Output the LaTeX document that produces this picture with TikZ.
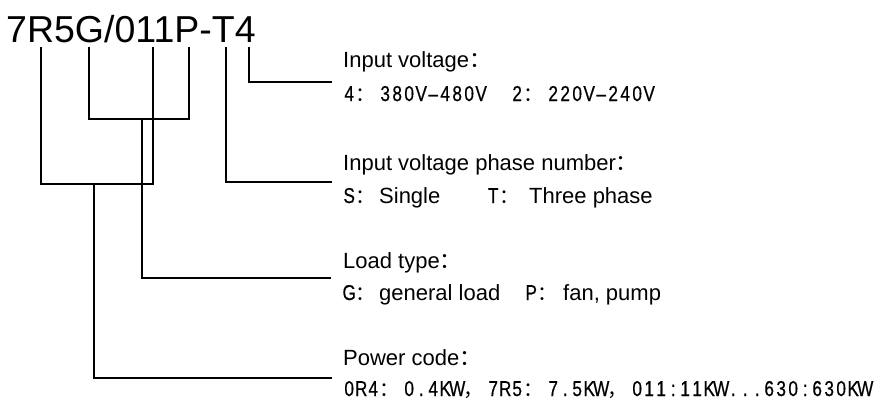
\documentclass[tikz,border=0pt]{standalone}
\usepackage{fontspec}
\setmainfont{Liberation Sans}
\newfontfamily\hwfont[FakeStretch=0.8,FakeBold=0.5]{Liberation Sans}
\newfontfamily\cjk{Noto Sans CJK SC}
\newcommand{\fw}[1]{\makebox[24pt][l]{\cjk\fontsize{20}{24}\selectfont #1}}
\newcommand{\ar}[1]{{\rmfamily\fontsize{22}{26}\selectfont #1}}
\def\monoloop#1{\ifx#1\relax\else\makebox[12pt]{#1}\expandafter\monoloop\fi}
\newcommand{\mono}[1]{\monoloop#1\relax}
\begin{document}
\begin{tikzpicture}[x=1pt,y=-1pt,
  conn/.style={draw=black,line width=1.8pt},
  titletext/.style={inner sep=0pt,anchor=base west,font=\fontsize{37.5}{44}\selectfont},
  head/.style={inner sep=0pt,anchor=base west,font=\fontsize{22}{26}\selectfont},
  sub/.style={inner sep=0pt,anchor=base west,font=\hwfont\fontsize{21.5}{24}\selectfont}]
\useasboundingbox (0,0) rectangle (875,400);
\fill[white] (0,0) rectangle (875,400);
% code
\node[titletext] (code) at (6,42) {7R5G/011P-T4};
% tap points under the characters
\coordinate (tR) at (41,47);
\coordinate (tG) at (89,47);
\coordinate (t1) at (153,47);
\coordinate (tP) at (189,47);
\coordinate (tT) at (226,47);
\coordinate (t4) at (249,47);
\coordinate (jGP) at (142,119);
\coordinate (jR1) at (94,184);
% line ends
\coordinate (e1) at (332,82);
\coordinate (e2) at (332,182);
\coordinate (e3) at (331,278);
\coordinate (e4) at (332,378);
% texts
\node[head] (h1) at (343,67) {Input voltage{\cjk ：}};
\node[sub] (s1) at (343,101) {\mono{4}\fw{：}\mono{380V–480V}\hspace{24pt}\mono{2}\fw{：}\mono{220V–240V}};
\node[head] (h2) at (343,170) {Input voltage phase number{\cjk ：}};
\node[sub] (s2) at (343,203) {\makebox[144pt][l]{\mono{S}\fw{：}\ar{Single}}\mono{T}\fw{：}\hspace{6pt}\ar{Three phase}};
\node[head] (h3) at (343,268) {Load type{\cjk ：}};
\node[sub] (s3) at (343,300) {\makebox[182pt][l]{\mono{G}\fw{：}\ar{general load}}\mono{P}\fw{：}\hspace{2pt}\ar{fan, pump}};
\node[head] (h4) at (343,365) {Power code{\cjk ：}};
\node[sub] (s4) at (343,396) {\mono{0R4}\fw{：}\mono{0.4KW}\fw{，}\mono{7R5}\fw{：}\mono{7.5KW}\fw{，}\mono{011:11KW...630:630KW}};
% connectors
\draw[conn] (t4) |- (e1);
\draw[conn] (tT) |- (e2);
\draw[conn] (tG) -- (tG |- jGP) -- (tP |- jGP) -- (tP);
\draw[conn] (jGP) |- (e3);
\draw[conn] (tR) -- (tR |- jR1) -- (t1 |- jR1) -- (t1);
\draw[conn] (jR1) |- (e4);
\end{tikzpicture}
\end{document}
